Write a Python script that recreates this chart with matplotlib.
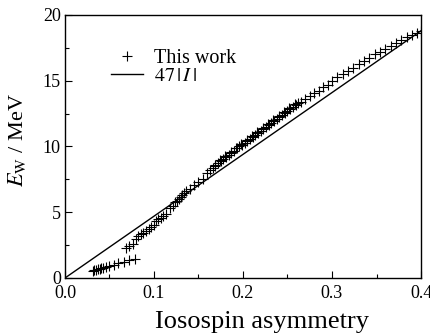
import numpy as np
import matplotlib
matplotlib.use('Agg')
import matplotlib.pyplot as plt
from matplotlib.ticker import MultipleLocator

plt.rcParams['font.family'] = ['Liberation Serif', 'DejaVu Serif']
plt.rcParams['mathtext.fontset'] = 'stix'

# lower branch of the calculated points
x_low = [0.031, 0.033, 0.035, 0.037, 0.039, 0.041, 0.043, 0.046, 0.050,
         0.055, 0.060, 0.066, 0.072, 0.079]
y_low = [0.55, 0.60, 0.63, 0.67, 0.70, 0.74, 0.78, 0.84, 0.92,
         1.02, 1.12, 1.23, 1.33, 1.45]

# main branch
x_main = [0.069, 0.072, 0.076, 0.080, 0.082, 0.085, 0.088, 0.091, 0.094, 0.097,
          0.100, 0.102, 0.105, 0.108, 0.110, 0.113, 0.118, 0.121, 0.124, 0.126,
          0.128, 0.130, 0.132, 0.134, 0.136, 0.140, 0.145, 0.150, 0.155, 0.160,
          0.163, 0.166, 0.169, 0.172, 0.175, 0.178, 0.181, 0.184, 0.187, 0.190,
          0.193, 0.196, 0.199, 0.202, 0.205, 0.208, 0.211, 0.214, 0.217, 0.220,
          0.223, 0.226, 0.229, 0.232, 0.235, 0.238, 0.241, 0.244, 0.247, 0.250,
          0.253, 0.256, 0.259, 0.262, 0.265, 0.270, 0.275, 0.280, 0.285, 0.290,
          0.295, 0.300, 0.306, 0.312, 0.318, 0.324, 0.330, 0.336, 0.342, 0.348,
          0.354, 0.360, 0.366, 0.372, 0.378, 0.384, 0.390, 0.396, 0.400]
y_main = [2.30, 2.45, 2.60, 3.00, 3.20, 3.35, 3.45, 3.60, 3.75, 3.90,
          4.05, 4.30, 4.45, 4.60, 4.75, 4.90, 5.30, 5.50, 5.75, 5.85,
          6.00, 6.15, 6.30, 6.45, 6.60, 6.80, 7.10, 7.30, 7.50, 8.00,
          8.20, 8.40, 8.55, 8.75, 8.90, 9.05, 9.20, 9.35, 9.50, 9.65,
          9.85, 10.00, 10.15, 10.30, 10.45, 10.60, 10.75, 10.90, 11.05, 11.20,
          11.35, 11.50, 11.65, 11.80, 11.95, 12.10, 12.25, 12.40, 12.55, 12.70,
          12.85, 13.00, 13.15, 13.30, 13.40, 13.60, 13.85, 14.05, 14.25, 14.50,
          14.70, 14.95, 15.25, 15.50, 15.75, 16.00, 16.25, 16.50, 16.75, 17.00,
          17.20, 17.45, 17.65, 17.90, 18.10, 18.30, 18.45, 18.65, 18.75]

# extra points thickening the dense part of the band
x_dense = [0.168, 0.174, 0.180, 0.186, 0.192, 0.198, 0.204, 0.210, 0.216, 0.222,
           0.228, 0.234, 0.240, 0.246, 0.252, 0.258]
y_dense = [8.60, 8.95, 9.25, 9.60, 9.90, 10.20, 10.50, 10.80, 11.10, 11.40,
           11.70, 12.00, 12.30, 12.60, 12.90, 13.20]

slope = 47
line_x = [0.0, 0.4]

x_pts = x_low + x_main + x_dense
y_pts = y_low + y_main + y_dense

fig = plt.figure(figsize=(4.31, 3.34), dpi=100)
ax = fig.add_axes([0.1508, 0.1677, 0.826, 0.7874])

ax.plot(x_pts, y_pts, ls='none', marker='+', ms=7, mew=0.8, color='black',
        label='This work')
ax.plot(line_x, [slope * v for v in line_x], color='black', lw=1.0,
        label=r'$47\,|\,I\,|$')

ax.set_xlim(0, 0.4)
ax.set_ylim(0, 20)
ax.xaxis.set_major_locator(MultipleLocator(0.1))
ax.xaxis.set_minor_locator(MultipleLocator(0.05))
ax.yaxis.set_major_locator(MultipleLocator(5))
ax.yaxis.set_minor_locator(MultipleLocator(2.5))
ax.tick_params(which='both', direction='in', top=False, right=False,
               labelsize=13, width=0.8)
ax.tick_params(which='major', length=5)
ax.tick_params(which='minor', length=3)
ax.tick_params(axis='x', pad=5)
ax.tick_params(axis='y', pad=3)
for s in ax.spines.values():
    s.set_linewidth(1.0)

ax.set_xlabel('Iosospin asymmetry', fontsize=19)
ax.xaxis.set_label_coords(0.553, -0.127)
ax.set_ylabel(r'$E_{\rm W}$ / MeV', fontsize=16)
ax.yaxis.set_label_coords(-0.105, 0.525)

ax.legend(loc='upper left', bbox_to_anchor=(0.13, 0.87), frameon=False,
          fontsize=14.5, borderpad=0, borderaxespad=0, handlelength=1.6,
          handletextpad=0.5, labelspacing=-0.05)

fig.savefig('out.png', dpi=100)
